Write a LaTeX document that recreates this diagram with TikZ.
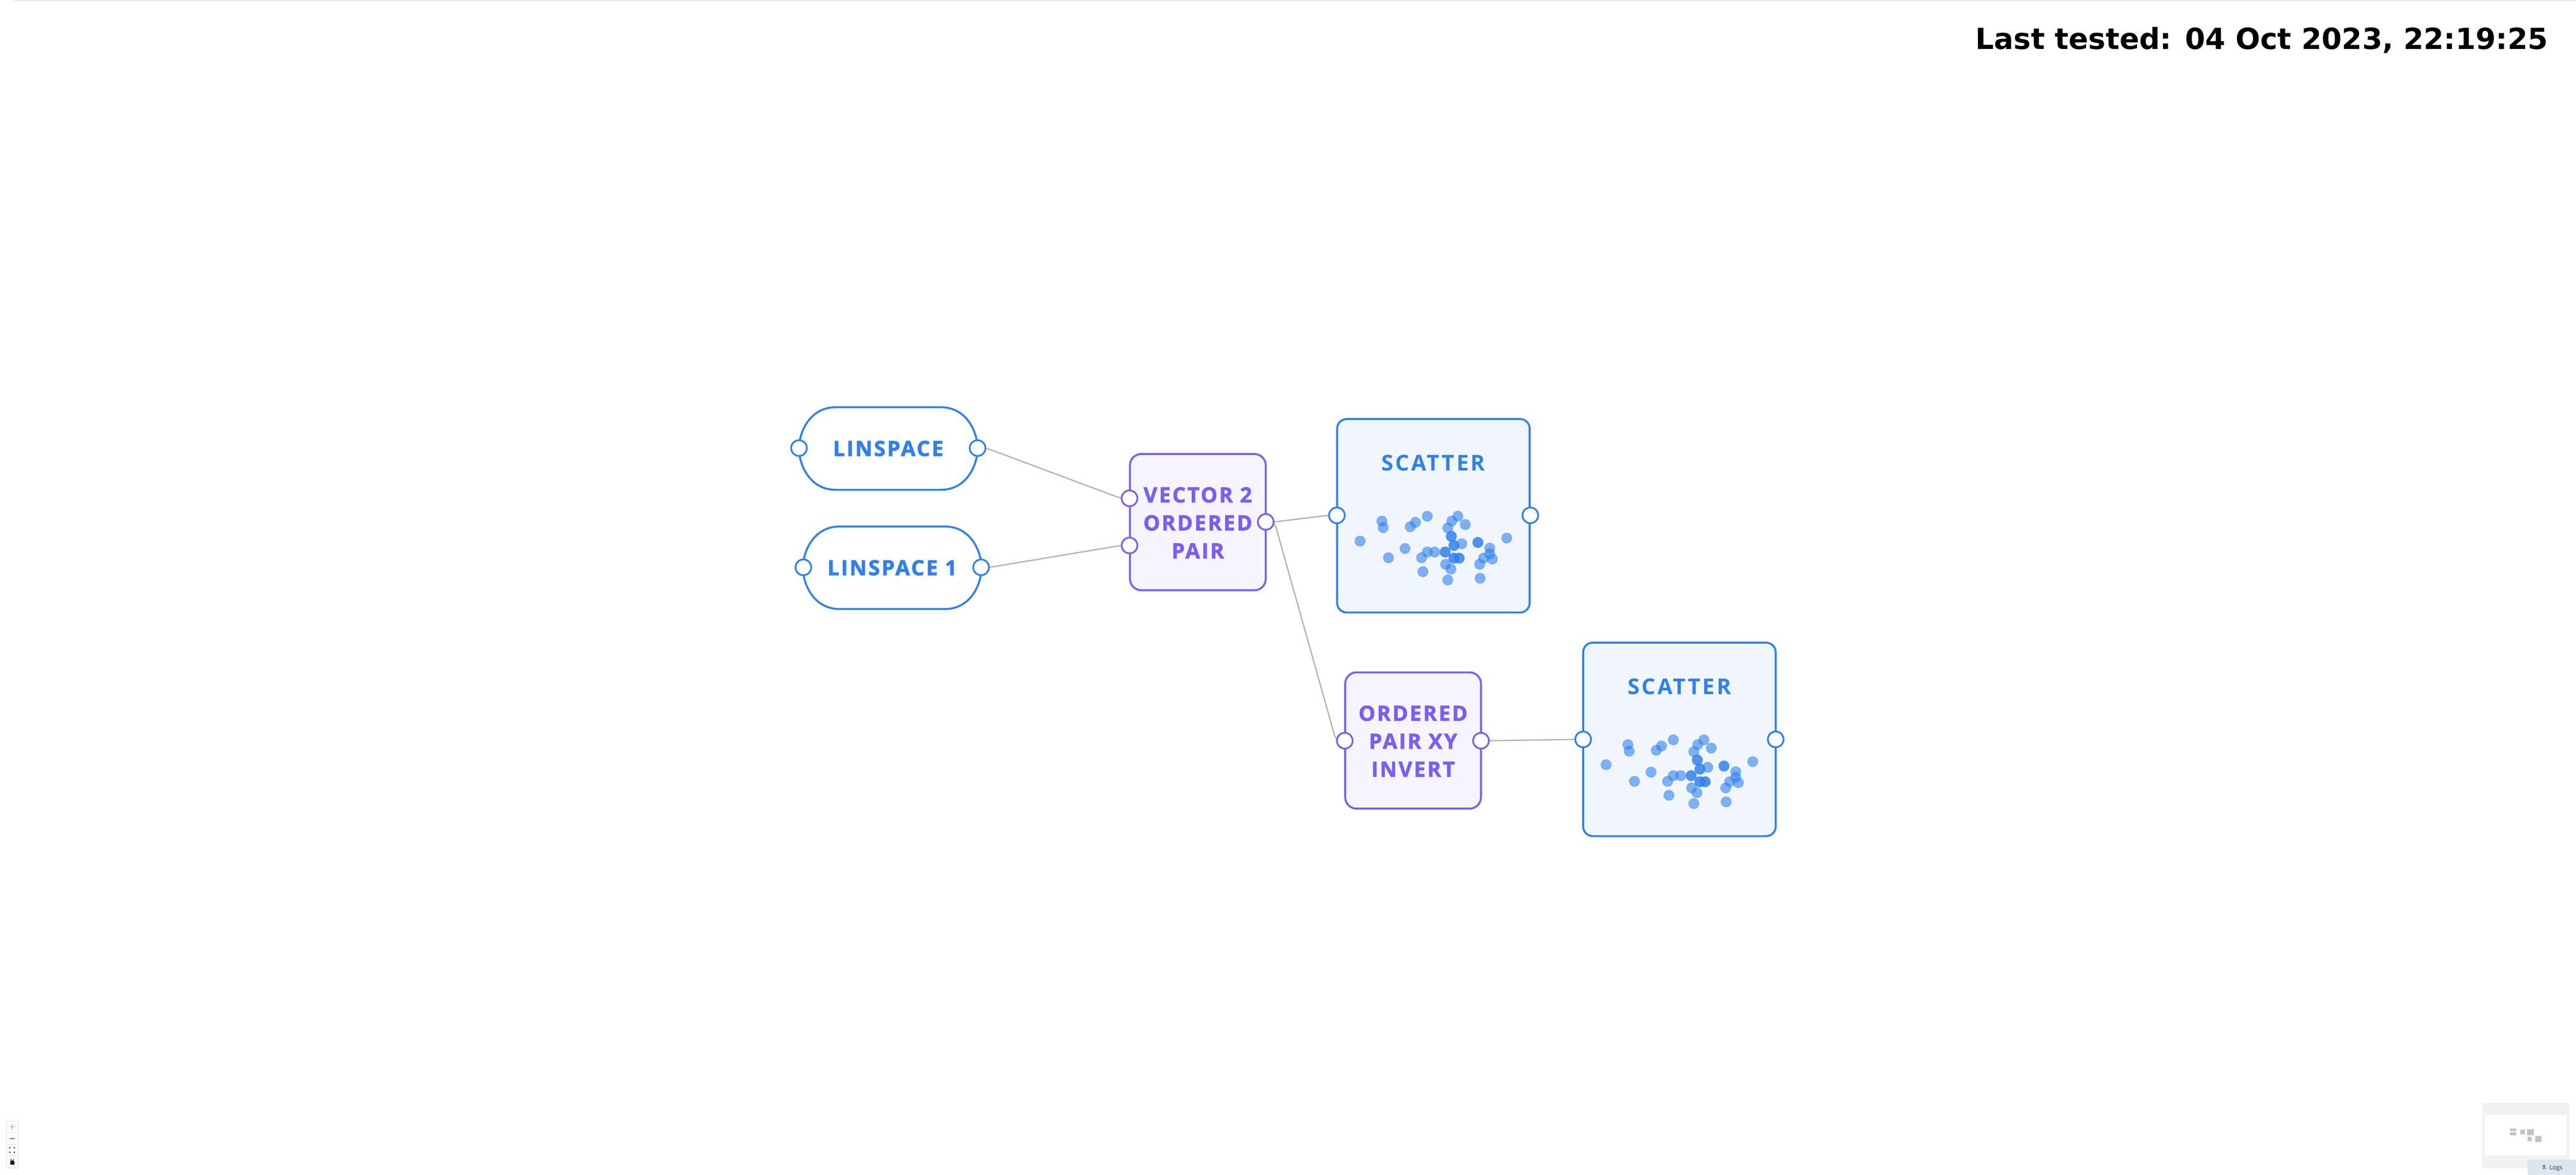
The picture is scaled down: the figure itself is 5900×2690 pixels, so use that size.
\documentclass[tikz,border=0pt]{standalone}
\usepackage{fontspec}
\usetikzlibrary{calc}
\newfontfamily\lblfont[LetterSpace=8, BoldFeatures={FakeBold=2}]{Open Sans}
\newfontfamily\sctfont[LetterSpace=9]{Open Sans}
\newfontfamily\uifont{Open Sans}
\newfontfamily\dvfont{DejaVu Sans}
\definecolor{nblue}{HTML}{2F80ED}
\definecolor{npurple}{HTML}{7B5EF2}
\definecolor{pfill}{HTML}{F6F5FE}
\definecolor{bfill}{HTML}{F1F6FD}
\definecolor{wiregray}{HTML}{B3B3B3}
\definecolor{topgray}{HTML}{E6E6E6}
\definecolor{mapgray}{HTML}{F1F1F1}
\definecolor{mapsq}{HTML}{C2C2C2}
\definecolor{logsbg}{HTML}{DDE5EF}
\pgfdeclarelayer{bg}
\pgfsetlayers{bg,main}
\tikzset{
  port/.style={circle, draw, fill=white, line width=4pt, minimum size=36pt, inner sep=0pt},
  bport/.style={port, draw=nblue},
  pport/.style={port, draw=npurple},
  pbox/.style={draw=npurple, fill=pfill, rounded corners=26pt, line width=4.5pt,
    minimum width=311pt, minimum height=312pt, inner sep=0pt},
  sbox/.style={draw=nblue, fill=bfill, rounded corners=22pt, line width=4.5pt,
    minimum width=441pt, minimum height=443pt, inner sep=0pt},
  pill/.style={draw=nblue, line width=4.5pt},
  wire/.style={draw=wiregray, line width=3pt, rounded corners=12pt},
  lbl/.style={font=\lblfont\bfseries\fontsize{48}{64}\selectfont, align=center, inner sep=0pt},
  sttl/.style={font=\sctfont\bfseries\fontsize{50}{60}\selectfont, text=nblue, inner sep=0pt},
  dot/.style={fill=nblue, fill opacity=0.6},
  ctrlbtn/.style={draw=black!12, fill=white, line width=1pt}
}
\newcommand\pillshape{%
  \draw[pill] (-120.5,-94.5) -- (120.5,-94.5)
    .. controls (180.5,-94.5) and (204.5,-36.5) .. (204.5,0)
    .. controls (204.5,36.5) and (180.5,94.5) .. (120.5,94.5)
    -- (-120.5,94.5)
    .. controls (-180.5,94.5) and (-204.5,36.5) .. (-204.5,0)
    .. controls (-204.5,-36.5) and (-180.5,-94.5) .. (-120.5,-94.5) -- cycle;}
\newcommand\scatterdots{%
  \foreach \px/\py in {55/282,105/236,108/251,120/320,158/299,170/249,182/239,209/225,
    199/352,196/320,209/307,226/307,250/307,251/335,263/346,256/371,256/252,265/236,
    279/225,296/244,264/271,270/292,288/288,270/321,282/321,325/285,329/335,338/321,
    352/298,352/311,358/323,330/367,391/275}
    {\fill[dot] (\px-223,\py-224) circle (12.5);}
  \foreach \px/\py in {250/307,264/271,270/292,270/321,282/321,325/285}
    {\fill[dot] (\px-223,\py-224) circle (12.5);}}
\begin{document}
\begin{tikzpicture}[x=1pt,y=-1pt]
\useasboundingbox (0,0) rectangle (5900,2690);
\begin{pgfonlayer}{bg}
  \fill[white] (0,0) rectangle (5900,2690);
  \fill[topgray] (32,0) rectangle (5900,2.5);
\end{pgfonlayer}

% title
\node[font=\dvfont\bfseries\fontsize{66.5}{80}\selectfont, anchor=base east, inner sep=0pt]
  (stamp) at (5836,113) {Last tested: 04 Oct 2023, 22:19:25};

% LINSPACE
\node[lbl, text=nblue] (lA) at (2034.5,1027) {LINSPACE};
\begin{scope}[shift={(lA.center)}]\pillshape\end{scope}
\node[bport] (lA-i) at (1830,1026) {};
\node[bport] (lA-o) at (2239,1026) {};

% LINSPACE 1
\node[lbl, text=nblue] (lB) at (2043.5,1300) {LINSPACE 1};
\begin{scope}[shift={(lB.center)}]\pillshape\end{scope}
\node[bport] (lB-i) at (1840,1299) {};
\node[bport] (lB-o) at (2247,1299) {};

% VECTOR 2 ORDERED PAIR
\node[pbox] (vec) at (2743.5,1195.5) {};
\node[lbl, text=npurple] (vecl) at (2743.5,1197) {VECTOR 2\\ORDERED\\PAIR};
\node[pport] (vec-i1) at (2587,1141) {};
\node[pport] (vec-i2) at (2587,1249) {};
\node[pport] (vec-o) at (2899,1195) {};

% SCATTER 1
\node[sbox] (sc1) at (3283,1181) {};
\node[sttl] (sc1t) at (3283,1060) {SCATTER};
\begin{scope}[shift={(sc1.center)}]\scatterdots\end{scope}
\node[bport] (sc1-i) at (3062,1180) {};
\node[bport] (sc1-o) at (3505,1180) {};

% ORDERED PAIR XY INVERT
\node[pbox] (inv) at (3236.5,1695.5) {};
\node[lbl, text=npurple] (invl) at (3236.5,1697) {ORDERED\\PAIR XY\\INVERT};
\node[pport] (inv-i) at (3080,1696) {};
\node[pport] (inv-o) at (3392,1696) {};

% SCATTER 2
\node[sbox] (sc2) at (3846.5,1693) {};
\node[sttl] (sc2t) at (3846.5,1572) {SCATTER};
\begin{scope}[shift={(sc2.center)}]\scatterdots\end{scope}
\node[bport] (sc2-i) at (3626,1693) {};
\node[bport] (sc2-o) at (4067,1693) {};

% wires
\begin{pgfonlayer}{bg}
  \draw[wire] (lA-o.center) -- ++(20,0) -- ($(vec-i1.center)+(-20,0)$) -- (vec-i1.center);
  \draw[wire] (lB-o.center) -- ++(20,0) -- ($(vec-i2.center)+(-20,0)$) -- (vec-i2.center);
  \draw[wire] (vec-o.center) -- ++(20,0) -- ($(sc1-i.center)+(-20,0)$) -- (sc1-i.center);
  \draw[wire] (vec-o.center) -- ++(20,0) -- ($(inv-i.center)+(-20,0)$) -- (inv-i.center);
  \draw[wire] (inv-o.center) -- ++(20,0) -- ($(sc2-i.center)+(-20,0)$) -- (sc2-i.center);
\end{pgfonlayer}

% zoom controls (bottom left)
\fill[black!6] (14,2568) rectangle (43,2676);
\node[ctrlbtn, minimum width=26pt, minimum height=26.5pt, inner sep=0pt] (cplus) at (28,2580) {};
\node[ctrlbtn, minimum width=26pt, minimum height=26.5pt, inner sep=0pt] (cminus) at (28,2606.5) {};
\node[ctrlbtn, minimum width=26pt, minimum height=26.5pt, inner sep=0pt] (cfit) at (28,2633) {};
\node[ctrlbtn, minimum width=26pt, minimum height=26.5pt, inner sep=0pt] (clock) at (28,2659.5) {};
\draw[black!40, line width=1.3pt] (22,2580) -- (34,2580) (28,2574) -- (28,2586);
\draw[black!90, line width=1.6pt] (22,2607) -- (34,2607);
\draw[black!90, line width=1.3pt]
  (22,2630) -- (22,2627) -- (25,2627) (31,2627) -- (34,2627) -- (34,2630)
  (34,2636) -- (34,2639) -- (31,2639) (25,2639) -- (22,2639) -- (22,2636);
\fill[black!90] (24,2658) rectangle (33,2667);
\draw[black!90, line width=1.3pt] (25.5,2658) -- (25.5,2655) arc[start angle=180, end angle=0, radius=3] -- (31.5,2656);

% minimap (bottom right)
\fill[mapgray] (5685,2525) rectangle (5885,2675);
\node[fill=white, minimum width=188pt, minimum height=91pt, inner sep=0pt] (mmap) at (5785,2599.5) {};
\fill[mapsq] (5749,2584) rectangle (5763,2590);
\fill[mapsq] (5749,2593) rectangle (5763,2599);
\fill[mapsq] (5773,2587) rectangle (5783,2597);
\fill[mapsq] (5788,2585) rectangle (5803,2599);
\fill[mapsq] (5789,2603) rectangle (5799,2613);
\fill[mapsq] (5807,2601) rectangle (5821,2615);
\node[fill=logsbg, minimum width=111pt, minimum height=35pt, inner sep=0pt] (logs) at (5844.5,2672.5) {};
\draw[black!85, line width=1.3pt] (5824,2671) -- (5827,2668) -- (5830,2671)
  (5824,2676) -- (5827,2673) -- (5830,2676);
\node[font=\uifont\fontsize{14}{16}\selectfont, text=black!80, anchor=base west, inner sep=0pt]
  (logst) at (5839,2678) {Logs};
\end{tikzpicture}
\end{document}
